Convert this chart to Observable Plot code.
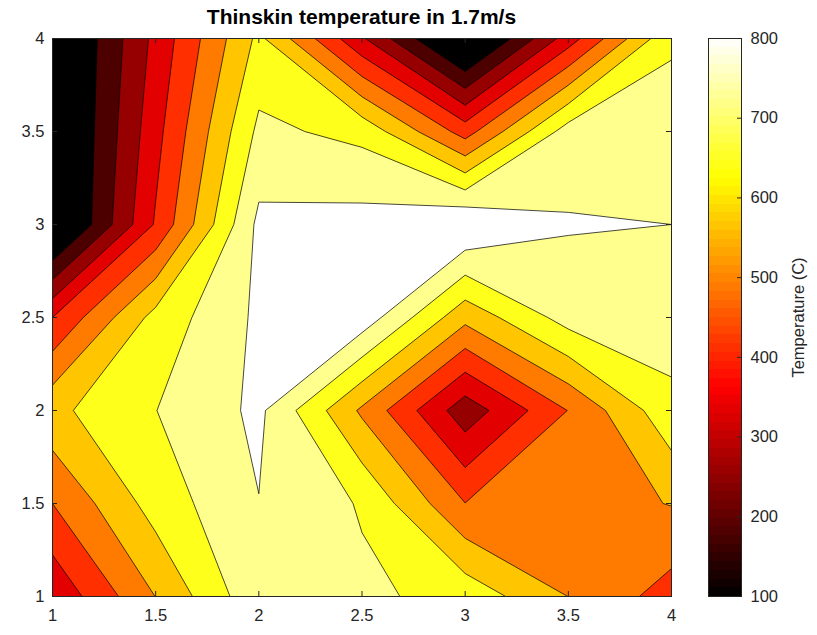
<!DOCTYPE html>
<html>
<head>
<meta charset="utf-8">
<script src="https://cdn.jsdelivr.net/npm/d3@7"></script>
<script src="https://cdn.jsdelivr.net/npm/@observablehq/plot@0.6"></script>
<style>
  body { margin: 0; background: #fff; }
  #chart { position: relative; width: 817px; height: 635px; font-family: "Liberation Sans", Arial, Helvetica, sans-serif; }
  #title { position: absolute; left: 52px; width: 619px; top: 4px; text-align: center; font-weight: bold; font-size: 21px; line-height: 26px; color: #000; }
  #main { position: absolute; left: 0; top: 0; }
  #cbar { position: absolute; left: 690px; top: 0; }
</style>
</head>
<body>
<div id="chart">
  <div id="main"></div>
  <div id="cbar"></div>
  <div id="title">Thinskin temperature in 1.7m/s</div>
</div>
<script>
// Grid positions (x = columns, y = rows listed from top y=4 to bottom y=1)
const xValues = [1, 1.5, 2, 2.5, 3, 3.5, 4];
const yValues = [4, 3.5, 3, 2.5, 2, 1.5, 1];

// Temperature (C), one row per y value
const tempY40 = [42, 355, 663, 343, 25, 372, 712];
const tempY35 = [36, 385, 740, 700, 455, 760, 756];
const tempY30 = [30, 420, 819, 830, 880, 806, 800];
const tempY25 = [411, 672, 815, 848, 590, 755, 760];
const tempY20 = [625, 721, 817, 553, 286, 491, 701];
const tempY15 = [489, 678, 798, 715, 490, 530, 570];
const tempY10 = [348, 568, 782, 738, 695, 566, 454];

// Contour levels
const levels = [0, 100, 177.8, 255.6, 333.3, 411.1, 488.9, 566.7, 644.4, 722.2, 800];

// Tick values
const xTicks = [1, 1.5, 2, 2.5, 3, 3.5, 4];
const yTicks = [1, 1.5, 2, 2.5, 3, 3.5, 4];
const cbTicks = [100, 200, 300, 400, 500, 600, 700, 800];
const cbDomain = [100, 800];

const temperature = [...tempY40, ...tempY35, ...tempY30, ...tempY25, ...tempY20, ...tempY15, ...tempY10];

const dx = xValues[1] - xValues[0];
const dy = yValues[0] - yValues[1];

// "hot" colormap: black -> red (3/8) -> yellow (6/8) -> white
const span = cbDomain[1] - cbDomain[0];
const colorScale = {
  type: "linear",
  domain: [cbDomain[0], cbDomain[0] + span * 3 / 8, cbDomain[0] + span * 6 / 8, cbDomain[1]],
  range: ["#000000", "#ff0000", "#ffff00", "#ffffff"],
  clamp: true
};

const font = "'Liberation Sans', Arial, Helvetica, sans-serif";
const axisColor = "#262626";

// Main contour plot
const W = 690, H = 635, mL = 52, mR = 19, mT = 38, mB = 39;
const innerW = W - mL - mR;
const innerH = H - mT - mB;

const main = Plot.plot({
  width: W, height: H,
  marginLeft: mL, marginRight: mR, marginTop: mT, marginBottom: mB,
  style: { fontFamily: font, fontSize: "16.5px", color: axisColor, background: "transparent", overflow: "visible" },
  x: { domain: [xValues[0], xValues[xValues.length - 1]] },
  y: { domain: [yValues[yValues.length - 1], yValues[0]] },
  color: colorScale,
  marks: [
    Plot.frame({ fill: "black" }),
    Plot.contour(temperature, {
      width: xValues.length, height: yValues.length,
      x1: xValues[0] - dx / 2, x2: xValues[xValues.length - 1] + dx / 2,
      y1: yValues[0] + dy / 2, y2: yValues[yValues.length - 1] - dy / 2,
      fill: Plot.identity, thresholds: levels,
      stroke: "#000", strokeWidth: 0.9, strokeOpacity: 0.8,
      clip: true
    }),
    Plot.tickX(xTicks, { x: d => d, insetTop: innerH - 5, stroke: axisColor }),
    Plot.tickX(xTicks, { x: d => d, insetBottom: innerH - 5, stroke: axisColor }),
    Plot.tickY(yTicks, { y: d => d, insetRight: innerW - 5, stroke: axisColor }),
    Plot.tickY(yTicks, { y: d => d, insetLeft: innerW - 5, stroke: axisColor }),
    Plot.frame({ stroke: axisColor, strokeWidth: 1 }),
    Plot.axisX(xTicks, { tickSize: 0, tickPadding: 13, tickFormat: d => String(d), label: null, fontSize: 16.5 }),
    Plot.axisY(yTicks, { tickSize: 0, tickPadding: 8, tickFormat: d => String(d), label: null, fontSize: 16.5 })
  ]
});
document.getElementById("main").appendChild(main);

// Colorbar
const cW = 127, cL = 18, cR = 76;
const cInnerW = cW - cL - cR;
const nBins = 64;
const bins = d3.range(nBins).map(i => ({
  lo: cbDomain[0] + span * i / nBins,
  hi: cbDomain[0] + span * (i + 1) / nBins,
  mid: cbDomain[0] + span * (i + 0.5) / nBins
}));

const cbar = Plot.plot({
  width: cW, height: H,
  marginLeft: cL, marginRight: cR, marginTop: mT, marginBottom: mB,
  style: { fontFamily: font, fontSize: "16.5px", color: axisColor, background: "transparent", overflow: "visible" },
  x: { domain: [0, 1], axis: null },
  y: { domain: cbDomain },
  color: colorScale,
  marks: [
    Plot.rect(bins, { x1: 0, x2: 1, y1: "lo", y2: "hi", fill: "mid", shapeRendering: "crispEdges" }),
    Plot.tickY(cbTicks, { y: d => d, insetLeft: cInnerW - 4, stroke: axisColor }),
    Plot.frame({ stroke: axisColor, strokeWidth: 1 }),
    Plot.axisY(cbTicks, {
      anchor: "right", tickSize: 0, tickPadding: 9, tickFormat: d => String(d), fontSize: 16.5,
      label: "Temperature (C)", labelAnchor: "center", labelArrow: "none", labelOffset: 62
    })
  ]
});
document.getElementById("cbar").appendChild(cbar);
</script>
</body>
</html>
